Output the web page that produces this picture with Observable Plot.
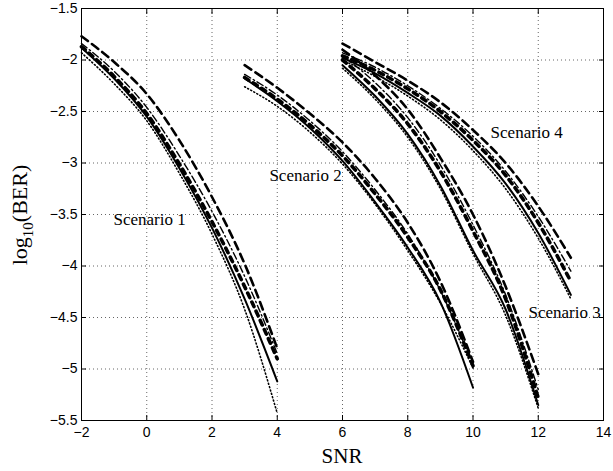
<!DOCTYPE html>
<html><head><meta charset="utf-8">
<script src="https://cdn.jsdelivr.net/npm/d3@7"></script>
<script src="https://cdn.jsdelivr.net/npm/@observablehq/plot@0.6"></script>
<style>body{margin:0;background:#fff}</style>
</head><body><div id="chart"></div>
<script>
// Scenario 1
const s1X      = [-2, -1, 0, 1, 2, 3, 4];
const s1Solid  = [-1.88, -2.18, -2.55, -3.05, -3.63, -4.32, -5.12];
const s1Bold   = [-1.87, -2.16, -2.52, -3.01, -3.57, -4.20, -4.90];
const s1Dot    = [-1.93, -2.23, -2.59, -3.10, -3.69, -4.42, -5.43];
const s1DashDot= [-1.84, -2.11, -2.46, -2.93, -3.47, -4.10, -4.85];
const s1Dash   = [-1.77, -2.02, -2.33, -2.78, -3.33, -3.98, -4.80];
// Scenario 2
const s2X      = [3, 4, 5, 6, 7, 8, 9, 10];
const s2Solid  = [-2.18, -2.40, -2.66, -2.98, -3.38, -3.82, -4.35, -5.18];
const s2Bold   = [-2.17, -2.38, -2.63, -2.93, -3.30, -3.72, -4.23, -4.97];
const s2Dot    = [-2.26, -2.45, -2.70, -3.01, -3.40, -3.85, -4.36, -4.99];
const s2DashDot= [-2.14, -2.34, -2.59, -2.89, -3.26, -3.69, -4.24, -4.96];
const s2Dash   = [-2.05, -2.27, -2.52, -2.80, -3.15, -3.58, -4.15, -4.93];
// Scenario 3
const s3X      = [6, 7, 8, 9, 10, 11, 12];
const s3Solid  = [-2.05, -2.35, -2.72, -3.22, -3.85, -4.42, -5.35];
const s3Bold   = [-2.00, -2.28, -2.62, -3.08, -3.66, -4.32, -5.28];
const s3Dot    = [-2.08, -2.38, -2.75, -3.25, -3.88, -4.48, -5.38];
const s3DashDot= [-1.96, -2.22, -2.56, -3.02, -3.60, -4.28, -5.20];
const s3Dash   = [-1.90, -2.15, -2.48, -2.95, -3.50, -4.20, -5.05];
// Scenario 4
const s4X      = [6, 7, 8, 9, 10, 11, 12, 13];
const s4Solid  = [-1.98, -2.13, -2.32, -2.54, -2.84, -3.20, -3.68, -4.28];
const s4Bold   = [-1.96, -2.10, -2.28, -2.50, -2.78, -3.12, -3.58, -4.15];
const s4Dot    = [-2.00, -2.16, -2.35, -2.58, -2.88, -3.25, -3.73, -4.32];
const s4DashDot= [-1.93, -2.07, -2.25, -2.47, -2.74, -3.08, -3.52, -4.05];
const s4Dash   = [-1.84, -2.02, -2.20, -2.41, -2.68, -3.00, -3.42, -3.92];

const xTicks = [-2, 0, 2, 4, 6, 8, 10, 12, 14];
const yTicks = [-5.5, -5, -4.5, -4, -3.5, -3, -2.5, -2, -1.5];

const labelText = ["Scenario 1", "Scenario 2", "Scenario 3", "Scenario 4"];
const labelX = [-1.02, 3.76, 11.70, 10.54];
const labelY = [-3.55, -3.12, -4.45, -2.70];

const scenarios = [
  {name: "S1", x: s1X, solid: s1Solid, bold: s1Bold, dot: s1Dot, dashdot: s1DashDot, dash: s1Dash},
  {name: "S2", x: s2X, solid: s2Solid, bold: s2Bold, dot: s2Dot, dashdot: s2DashDot, dash: s2Dash},
  {name: "S3", x: s3X, solid: s3Solid, bold: s3Bold, dot: s3Dot, dashdot: s3DashDot, dash: s3Dash},
  {name: "S4", x: s4X, solid: s4Solid, bold: s4Bold, dot: s4Dot, dashdot: s4DashDot, dash: s4Dash}
];
function rows(style) {
  const out = [];
  for (const s of scenarios) s.x.forEach((x, i) => out.push({scenario: s.name, x, y: s[style][i]}));
  return out;
}
const styles = [
  {key: "dot",     strokeWidth: 1.6, strokeDasharray: "1,2.5"},
  {key: "dashdot", strokeWidth: 1.4, strokeDasharray: "7,3,1.5,3"},
  {key: "dash",    strokeWidth: 2.6, strokeDasharray: "8,5"},
  {key: "solid",   strokeWidth: 2.0, strokeDasharray: null},
  {key: "bold",    strokeWidth: 3.6, strokeDasharray: "5,5"}
];
const lineMarks = styles.map(st => Plot.line(rows(st.key), {
  x: "x", y: "y", z: "scenario", stroke: "black", curve: "monotone-x",
  strokeWidth: st.strokeWidth, strokeDasharray: st.strokeDasharray
}));
const labels = labelText.map((t, i) => ({t, x: labelX[i], y: labelY[i]}));

const chart = Plot.plot({
  width: 613, height: 471,
  marginLeft: 81, marginRight: 10, marginTop: 8, marginBottom: 51,
  style: {fontFamily: "'Liberation Sans', Arial, sans-serif", fontSize: "14px", background: "white", color: "black", overflow: "visible"},
  x: {domain: [-2, 14]},
  y: {domain: [-5.5, -1.5]},
  marks: [
    Plot.gridX(xTicks, {stroke: "#000", strokeOpacity: 0.6, strokeDasharray: "1,3"}),
    Plot.gridY(yTicks, {stroke: "#000", strokeOpacity: 0.6, strokeDasharray: "1,3"}),
    ...lineMarks,
    Plot.text(labels, {x: "x", y: "y", text: "t", textAnchor: "start", fontFamily: "'Liberation Serif', 'Times New Roman', serif", fontSize: 17, fill: "black"}),
    Plot.frame({stroke: "black", strokeWidth: 1}),
    Plot.axisX(xTicks, {anchor: "bottom", tickSize: 0, tickPadding: 7, label: null, tickFormat: d => String(d).replace("-", "\u2212")}),
    Plot.axisY(yTicks, {anchor: "left", tickSize: 0, tickPadding: 4, label: null, tickFormat: d => String(d).replace("-", "\u2212")}),
    Plot.axisX(xTicks, {anchor: "bottom", tickSize: -5, text: null, label: null}),
    Plot.axisX(xTicks, {anchor: "top", tickSize: -5, text: null, label: null}),
    Plot.axisY(yTicks, {anchor: "left", tickSize: -5, text: null, label: null}),
    Plot.axisY(yTicks, {anchor: "right", tickSize: -5, text: null, label: null})
  ]
});
document.getElementById("chart").appendChild(chart);

const svg = d3.select(chart);
svg.append("text")
  .attr("x", 342).attr("y", 463)
  .attr("text-anchor", "middle")
  .attr("font-family", "'Liberation Serif', 'Times New Roman', serif")
  .attr("font-size", 21).attr("fill", "black")
  .text("SNR");
const yl = svg.append("text")
  .attr("transform", "translate(27,215) rotate(-90)")
  .attr("text-anchor", "middle")
  .attr("font-family", "'Liberation Serif', 'Times New Roman', serif")
  .attr("font-size", 22).attr("fill", "black");
yl.append("tspan").text("log");
yl.append("tspan").attr("font-size", 15).attr("dy", 6).text("10");
yl.append("tspan").attr("dy", -6).text("(BER)");
</script>
</body></html>
